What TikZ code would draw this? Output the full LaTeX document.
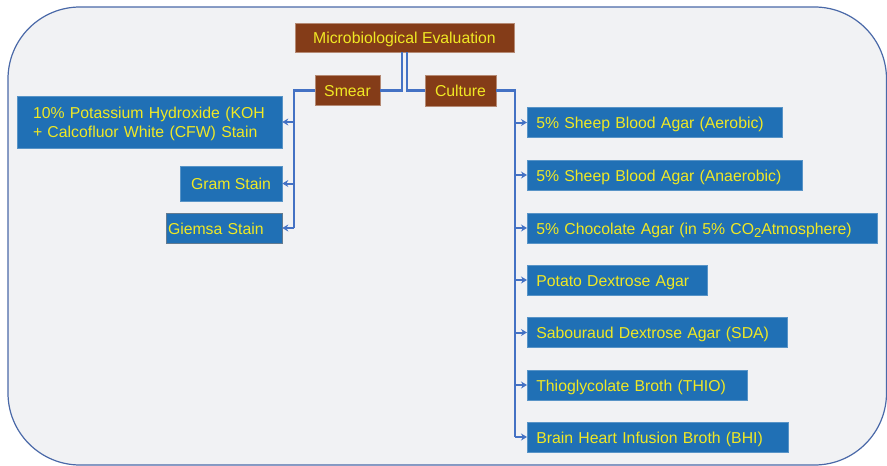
\documentclass[tikz,border=0pt]{standalone}
\usepackage{fontspec}
\setmainfont{Liberation Sans}
\usetikzlibrary{arrows.meta}
\definecolor{bgfill}{RGB}{241,242,244}
\definecolor{framec}{RGB}{74,105,168}
\definecolor{brownbox}{RGB}{132,60,24}
\definecolor{bluebox}{RGB}{32,112,181}
\definecolor{txtyellow}{RGB}{240,232,36}
\definecolor{linkc}{RGB}{68,114,196}
\tikzset{
  brownnode/.style={fill=brownbox, draw=brownbox!60!white, line width=0.6pt, text=txtyellow,
    font=\fontsize{15.8}{19}\selectfont, inner sep=0pt, minimum height=29pt,
    text height=15.5pt, text depth=3.5pt},
  bluebase/.style={fill=bluebox, draw=bluebox!75!white, line width=0.6pt, text=txtyellow,
    font=\fontsize{15.8}{19}\selectfont, inner ysep=0pt, align=left},
  bluenode/.style={bluebase, text height=15.5pt, text depth=3.5pt},
  rightnode/.style={bluenode, anchor=west, inner xsep=9pt, minimum height=30pt},
  bus/.style={draw=linkc, line width=2.4pt},
  stub/.style={draw=linkc, line width=2pt, -{Stealth[length=6pt,width=7pt]}},
}
\newcommand{\subtwo}{\raisebox{-3.5pt}{\fontsize{13}{13}\selectfont 2}}
\begin{document}
\begin{tikzpicture}[x=1pt,y=-1pt]
\useasboundingbox (0,0) rectangle (887,466);
\fill[white] (0,0) rectangle (887,466);
\draw[framec, line width=1.2pt, fill=bgfill, rounded corners=72pt] (8,7) rectangle (886.5,465);

% top level
\node[brownnode, minimum width=219pt] (me) at (404.5,37.5) {Microbiological Evaluation};
\node[brownnode, minimum width=65pt, minimum height=30pt] (smear) at (347.5,90.5) {Smear};
\node[brownnode, minimum width=71pt, minimum height=31pt] (culture) at (460.5,90.5) {Culture};

% smear children
\node[bluebase, inner xsep=16pt, text width=233pt, minimum height=52pt] (koh) at (149.5,122)
  {\rule{0pt}{15.5pt}10\% Potassium Hydroxide (KOH\\+ Calcofluor White (CFW) Stain};
\node[bluenode, align=center, inner xsep=0pt, minimum width=102pt, minimum height=35pt] (gram) at (231,183.5) {Gram Stain};
\node[bluenode, draw=gray!70!bluebox, inner xsep=2pt, text width=112pt, minimum height=30pt] (giemsa) at (224,228) {Giemsa Stain};

% culture children
\node[rightnode, text width=237pt] (aer) at (527,122.5) {5\% Sheep Blood Agar (Aerobic)};
\node[rightnode, text width=257pt] (ana) at (527,175) {5\% Sheep Blood Agar (Anaerobic)};
\node[rightnode, text width=332pt] (choc) at (527,228) {5\% Chocolate Agar (in 5\% CO\subtwo Atmosphere)};
\node[rightnode, text width=162pt] (pda) at (527,280) {Potato Dextrose Agar};
\node[rightnode, text width=242pt] (sda) at (527,332.5) {Sabouraud Dextrose Agar (SDA)};
\node[rightnode, text width=202pt] (thio) at (527,385) {Thioglycolate Broth (THIO)};
\node[rightnode, text width=243pt] (bhi) at (527,437) {Brain Heart Infusion Broth (BHI)};

% top connectors
\draw[bus] ([xshift=-2.5pt]me.south) |- (smear.east);
\draw[bus] ([xshift=2.5pt]me.south) |- (culture.west);

% smear bus
\coordinate (sv) at (294,90.5);
\draw[bus] (smear.west) -- (sv) -- (sv |- giemsa.east);
\draw[stub] (sv |- koh.east) -- (koh.east);
\draw[stub] (sv |- gram.east) -- (gram.east);
\draw[stub] (sv |- giemsa.east) -- (giemsa.east);

% culture bus
\coordinate (cv) at (515,90.5);
\draw[bus] (culture.east) -- (cv) -- (cv |- bhi.west);
\foreach \n in {aer,ana,choc,pda,sda,thio,bhi}
  \draw[stub] (cv |- \n.west) -- (\n.west);
\end{tikzpicture}
\end{document}
